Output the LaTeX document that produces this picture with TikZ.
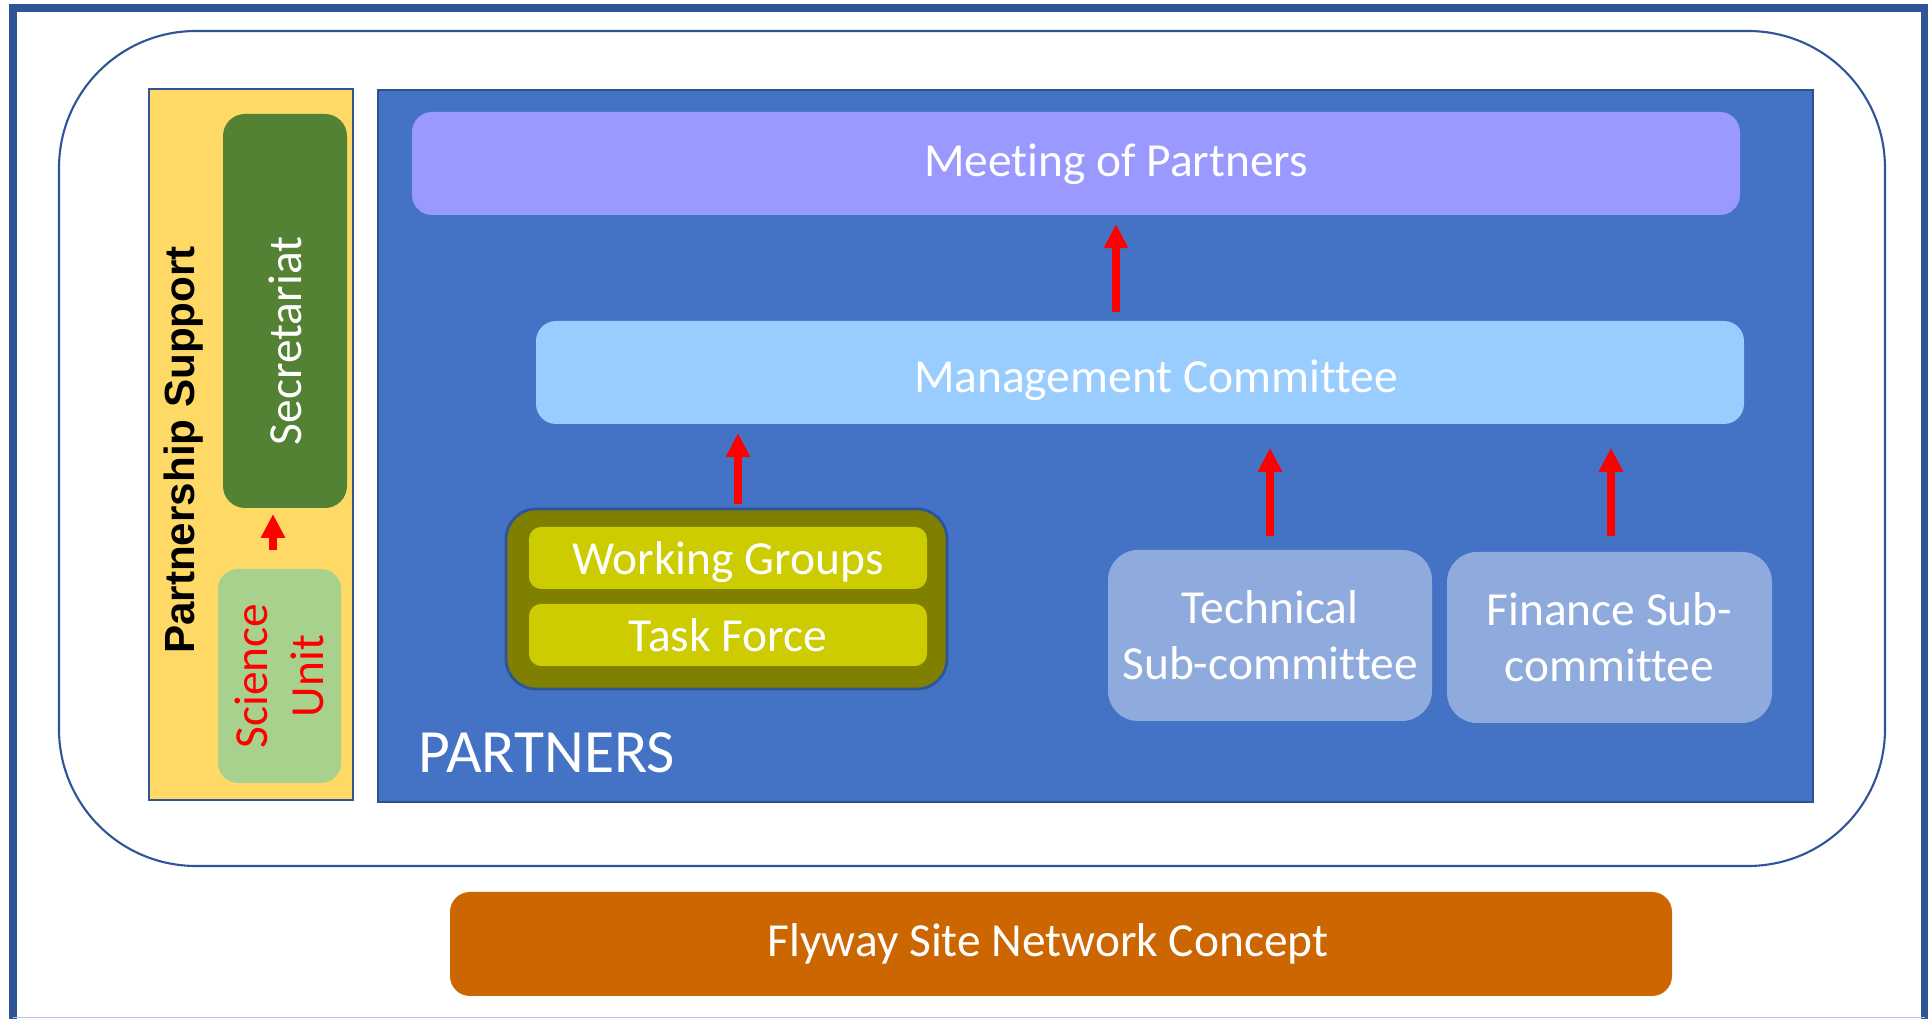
\documentclass[tikz,border=0pt]{standalone}
\usepackage{fontspec}
\setmainfont{Carlito}[Ligatures=NoCommon]
\newfontfamily\arialfont{Liberation Sans}
\usepackage{xcolor}
\usetikzlibrary{positioning}
\usetikzlibrary{calc}
\usetikzlibrary{arrows.meta}

\definecolor{framebl}{HTML}{2F5597}
\definecolor{framelt}{HTML}{B4C7E7}
\definecolor{supyellow}{HTML}{FFD966}
\definecolor{secgreen}{HTML}{548235}
\definecolor{scigreen}{HTML}{A9D18E}
\definecolor{partblue}{HTML}{4472C4}
\definecolor{partborder}{HTML}{2F528F}
\definecolor{mopviolet}{HTML}{9999FF}
\definecolor{mcblue}{HTML}{99CCFF}
\definecolor{wgolive}{HTML}{808000}
\definecolor{wgyellow}{HTML}{CCCC00}
\definecolor{subblue}{HTML}{8FAADC}
\definecolor{flyorange}{HTML}{CC6600}

\tikzset{
  roundbox/.style={inner sep=0pt, outer sep=0pt, rounded corners=2mm, text=white,
    font=\fontsize{13.5}{15.9}\selectfont, align=center},
  boxtext/.style={inner sep=0pt, text=white, font=\fontsize{13.5}{15.9}\selectfont},
  uparrow/.style={draw=red, line width=2.5pt, -{Triangle[length=6.8pt,width=6.5pt]}},
}

\begin{document}
\begin{tikzpicture}[x=0.1mm,y=-0.1mm]
\useasboundingbox (0,0) rectangle (1928,1019);
\fill[white] (0,0) rectangle (1928,1019);

% frame
\draw[framebl, line width=2.3pt] (13,1030) -- (13,8) -- (1925,8) -- (1925,1030);
\draw[framelt, line width=0.5pt] (13,1017.5) -- (1925,1017.5);
\draw[framebl, line width=0.6pt, rounded corners=13.7mm] (59,31) rectangle (1885,866);

% partnership support
\node[draw=framebl, line width=0.6pt, fill=supyellow, minimum width=20.4mm, minimum height=71.1mm, inner sep=0pt] (support) at (251,444.5) {};
\node[rotate=90, inner sep=0pt, font=\arialfont\bfseries\fontsize{12}{14}\selectfont] (supporttitle) at (184,450) {Partnership Support};

\node[roundbox, fill=secgreen, minimum width=12.4mm, minimum height=39.4mm, rounded corners=2.2mm] (sec) at (285,311) {};
\node[boxtext, rotate=90] (sectext) at ([yshift=-3mm]sec.center) {Secretariat};
\node[roundbox, fill=scigreen, rotate=90, text=red, minimum width=21.4mm, minimum height=12.3mm] (sci) at (279.5,676) {Science\\Unit};

% partners
\node[draw=partborder, line width=0.8pt, fill=partblue, minimum width=143.5mm, minimum height=71.2mm, inner sep=0pt] (partners) at (1095.5,446) {};
\node[boxtext, anchor=west, font=\fontsize{17.5}{21}\selectfont] (partnerstext) at (418,753) {PARTNERS};

\node[roundbox, fill=mopviolet, minimum width=132.8mm, minimum height=10.3mm] (mop) at (1076,163.5) {};
\node[boxtext, anchor=base] (moptext) at (mop.center -| 1116,0) [yshift=-1.35mm] {Meeting of Partners};
\node[roundbox, fill=mcblue, minimum width=120.8mm, minimum height=10.3mm] (mc) at (1140,372.5) {};
\node[boxtext, anchor=base] (mctext) at (mc.center -| 1156,0) [yshift=-2mm] {Management Committee};

\node[roundbox, draw=framebl, line width=0.8pt, fill=wgolive, minimum width=44.1mm, minimum height=18mm, rounded corners=3mm] (groups) at (726.5,599) {};
\node[roundbox, fill=wgyellow, minimum width=39.8mm, minimum height=6.2mm, rounded corners=1.2mm, text depth=0pt] (wg) at (728,558) {Working Groups};
\node[roundbox, fill=wgyellow, minimum width=39.8mm, minimum height=6.2mm, rounded corners=1.2mm] (tf) at (728,635) {Task Force};

\node[roundbox, fill=subblue, minimum width=32.4mm, minimum height=17.1mm, rounded corners=3mm] (tech) at (1270,635.5) {Technical\\Sub-committee};
\node[roundbox, fill=subblue, minimum width=32.5mm, minimum height=17.1mm, rounded corners=3mm] (fin) at (1609.5,637.5) {Finance Sub-\\committee};

% flyway
\node[roundbox, fill=flyorange, minimum width=122.2mm, minimum height=10.4mm] (flyway) at (1061,944) {};
\node[boxtext, anchor=base] (flywaytext) at (flyway.center -| 1048,0) [yshift=-1.3mm] {Flyway Site Network Concept};

% arrows
\draw[uparrow, shorten <=5.4pt, shorten >=1.7pt] (sci.east -| 273,0) -- (sec.south -| 273,0);
\draw[uparrow, shorten <=2.6pt, shorten >=2.6pt] (mc.north -| 1116,0) -- (mop.south -| 1116,0);
\draw[uparrow, shorten <=1.4pt, shorten >=2.6pt] (groups.north -| 738,0) -- (mc.south -| 738,0);
\draw[uparrow, shorten <=4pt, shorten >=6.8pt] (tech.north -| 1270,0) -- (mc.south -| 1270,0);
\draw[uparrow, shorten <=4.6pt, shorten >=6.8pt] (fin.north -| 1611,0) -- (mc.south -| 1611,0);

\end{tikzpicture}
\end{document}
